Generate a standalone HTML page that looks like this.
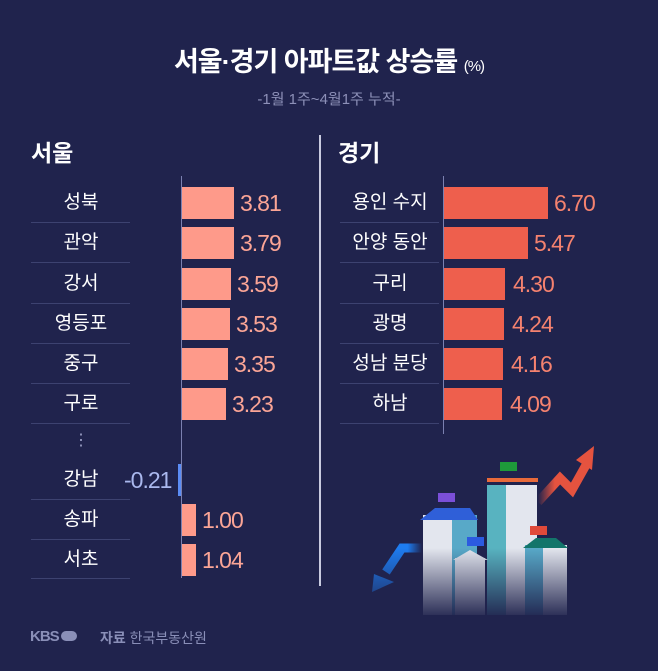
<!DOCTYPE html>
<html><head><meta charset="utf-8"><style>
body{margin:0;width:658px;height:671px;background:#20234d;overflow:hidden;font-family:"Liberation Sans","Noto Sans CJK KR",sans-serif;position:relative;color:#fff}
.a{position:absolute;white-space:nowrap}
.lbl{position:absolute;width:100px;text-align:center;font-size:19px;color:#fff;line-height:40px}
.sep{position:absolute;height:1px;background:#3d4270}
.bar{position:absolute;height:32px}
.v{position:absolute;font-size:23px;line-height:40px;letter-spacing:-1px}
</style></head><body>
<div class="a" style="left:0;width:658px;text-align:center;top:40px;font-size:27px;font-weight:bold;letter-spacing:-1px">서울·경기 아파트값 상승률 <span style="font-size:15px;font-weight:normal">(%)</span></div>
<div class="a" style="left:0;width:658px;text-align:center;top:88px;font-size:15px;color:#8d90b8">-1월 1주~4월1주 누적-</div>
<div class="a" style="left:31px;top:134px;font-size:23px;font-weight:bold">서울</div>
<div class="a" style="left:338px;top:134px;font-size:23px;font-weight:bold">경기</div>
<div class="a" style="left:319px;top:135px;width:2px;height:451px;background:#c9cbe0"></div>
<div class="a" style="left:181px;top:176px;width:1px;height:402px;background:#7b80b0"></div>
<div class="a" style="left:443px;top:176px;width:1px;height:258px;background:#7b80b0"></div>

<div class="lbl" style="left:31px;top:183px">성북</div>
<div class="lbl" style="left:31px;top:223px">관악</div>
<div class="lbl" style="left:31px;top:264px">강서</div>
<div class="lbl" style="left:31px;top:304px">영등포</div>
<div class="lbl" style="left:31px;top:344px">중구</div>
<div class="lbl" style="left:31px;top:384px">구로</div>
<div class="lbl" style="left:31px;top:421px;line-height:40px;font-size:16px;color:#9ea2c8">⋮</div>
<div class="lbl" style="left:31px;top:460px">강남</div>
<div class="lbl" style="left:31px;top:500px">송파</div>
<div class="lbl" style="left:31px;top:540px">서초</div>
<div class="sep" style="left:31px;top:222px;width:99px"></div>
<div class="sep" style="left:31px;top:262px;width:99px"></div>
<div class="sep" style="left:31px;top:303px;width:99px"></div>
<div class="sep" style="left:31px;top:343px;width:99px"></div>
<div class="sep" style="left:31px;top:383px;width:99px"></div>
<div class="sep" style="left:31px;top:423px;width:99px"></div>
<div class="sep" style="left:31px;top:499px;width:99px"></div>
<div class="sep" style="left:31px;top:539px;width:99px"></div>
<div class="sep" style="left:31px;top:578px;width:99px"></div>

<div class="bar" style="left:182px;top:187px;width:52px;background:#fe9a8a"></div><div class="v" style="left:240px;top:183px;color:#fba596">3.81</div>
<div class="bar" style="left:182px;top:227px;width:52px;background:#fe9a8a"></div><div class="v" style="left:240px;top:223px;color:#fba596">3.79</div>
<div class="bar" style="left:182px;top:268px;width:49px;background:#fe9a8a"></div><div class="v" style="left:237px;top:264px;color:#fba596">3.59</div>
<div class="bar" style="left:182px;top:308px;width:48px;background:#fe9a8a"></div><div class="v" style="left:236px;top:304px;color:#fba596">3.53</div>
<div class="bar" style="left:182px;top:348px;width:46px;background:#fe9a8a"></div><div class="v" style="left:234px;top:344px;color:#fba596">3.35</div>
<div class="bar" style="left:182px;top:388px;width:44px;background:#fe9a8a"></div><div class="v" style="left:232px;top:384px;color:#fba596">3.23</div>
<div class="bar" style="left:178px;top:464px;width:3px;background:#5b8cf5"></div><div class="v" style="left:124px;top:460px;color:#aab8ee">-0.21</div>
<div class="bar" style="left:182px;top:504px;width:14px;background:#fe9a8a"></div><div class="v" style="left:202px;top:500px;color:#fba596">1.00</div>
<div class="bar" style="left:182px;top:544px;width:14px;background:#fe9a8a"></div><div class="v" style="left:202px;top:540px;color:#fba596">1.04</div>

<div class="lbl" style="left:340px;top:183px">용인 수지</div>
<div class="lbl" style="left:340px;top:223px">안양 동안</div>
<div class="lbl" style="left:340px;top:264px">구리</div>
<div class="lbl" style="left:340px;top:304px">광명</div>
<div class="lbl" style="left:340px;top:344px">성남 분당</div>
<div class="lbl" style="left:340px;top:384px">하남</div>
<div class="sep" style="left:340px;top:222px;width:99px"></div>
<div class="sep" style="left:340px;top:262px;width:99px"></div>
<div class="sep" style="left:340px;top:303px;width:99px"></div>
<div class="sep" style="left:340px;top:343px;width:99px"></div>
<div class="sep" style="left:340px;top:383px;width:99px"></div>
<div class="sep" style="left:340px;top:423px;width:99px"></div>

<div class="bar" style="left:444px;top:187px;width:104px;background:#ee5f4d"></div><div class="v" style="left:554px;top:183px;color:#f5826f">6.70</div>
<div class="bar" style="left:444px;top:227px;width:84px;background:#ee5f4d"></div><div class="v" style="left:534px;top:223px;color:#f5826f">5.47</div>
<div class="bar" style="left:444px;top:268px;width:61px;background:#ee5f4d"></div><div class="v" style="left:513px;top:264px;color:#f5826f">4.30</div>
<div class="bar" style="left:444px;top:308px;width:60px;background:#ee5f4d"></div><div class="v" style="left:512px;top:304px;color:#f5826f">4.24</div>
<div class="bar" style="left:444px;top:348px;width:59px;background:#ee5f4d"></div><div class="v" style="left:511px;top:344px;color:#f5826f">4.16</div>
<div class="bar" style="left:444px;top:388px;width:58px;background:#ee5f4d"></div><div class="v" style="left:510px;top:384px;color:#f5826f">4.09</div>

<svg class="a" style="left:360px;top:440px" width="250" height="180" viewBox="0 0 250 180">
<defs><linearGradient id="f" x1="0" y1="0" x2="0" y2="1"><stop offset="0.6" stop-color="#20234d" stop-opacity="0"/><stop offset="1" stop-color="#20234d" stop-opacity="1"/></linearGradient>
<linearGradient id="r" x1="0" y1="0" x2="1" y2="0"><stop offset="0" stop-color="#e5533f" stop-opacity="0"/><stop offset="0.35" stop-color="#e5533f"/></linearGradient>
<linearGradient id="b" x1="1" y1="0" x2="0" y2="0"><stop offset="0" stop-color="#1e7cf0" stop-opacity="0"/><stop offset="0.4" stop-color="#1e7cf0"/></linearGradient></defs>
<polyline points="178,62 200,38 212,50 226,25" fill="none" stroke="url(#r)" stroke-width="9" stroke-linejoin="miter"/>
<polygon points="216,20 234,6 232,30" fill="#e5533f"/>
<polyline points="62,108 42,108 26,132" fill="none" stroke="url(#b)" stroke-width="9"/>
<polygon points="14,134 34,142 12,152" fill="#1e7cf0"/>
<rect x="63" y="75" width="54" height="100" fill="#e3e6ee"/><rect x="92" y="75" width="25" height="100" fill="#58a9c8"/>
<polygon points="60,80 75,68 110,68 118,80" fill="#2f5fd8"/>
<rect x="127" y="45" width="50" height="130" fill="#e3e6ee"/><rect x="127" y="45" width="19" height="130" fill="#58b3c0"/>
<rect x="127" y="38" width="51" height="4" fill="#e86a3a"/>
<rect x="95" y="118" width="30" height="57" fill="#e3e6ee"/><polygon points="93,120 110,110 128,120" fill="#e3e6ee"/>
<rect x="165" y="105" width="42" height="70" fill="#e3e6ee"/><rect x="165" y="105" width="18" height="70" fill="#58a9c8"/>
<polygon points="163,108 176,98 196,98 208,108" fill="#13756a"/>
<rect x="78" y="53" width="17" height="9" fill="#7b4fd8"/><rect x="140" y="22" width="17" height="9" fill="#1e9a3a"/>
<rect x="107" y="97" width="17" height="9" fill="#2c5be0"/><rect x="170" y="86" width="17" height="9" fill="#e04a3a"/>
<rect x="0" y="0" width="250" height="180" fill="url(#f)"/>
</svg>

<div class="a" style="left:30px;top:628px;font-size:15px;font-weight:bold;color:#8a8fb8;letter-spacing:-1px">KBS<span style="display:inline-block;width:16px;height:10px;border-radius:5px;background:#8a8fb8;margin-left:2px;vertical-align:0"></span></div>
<div class="a" style="left:100px;top:628px;font-size:14px;color:#8a8fb8"><b>자료</b> 한국부동산원</div>
</body></html>
